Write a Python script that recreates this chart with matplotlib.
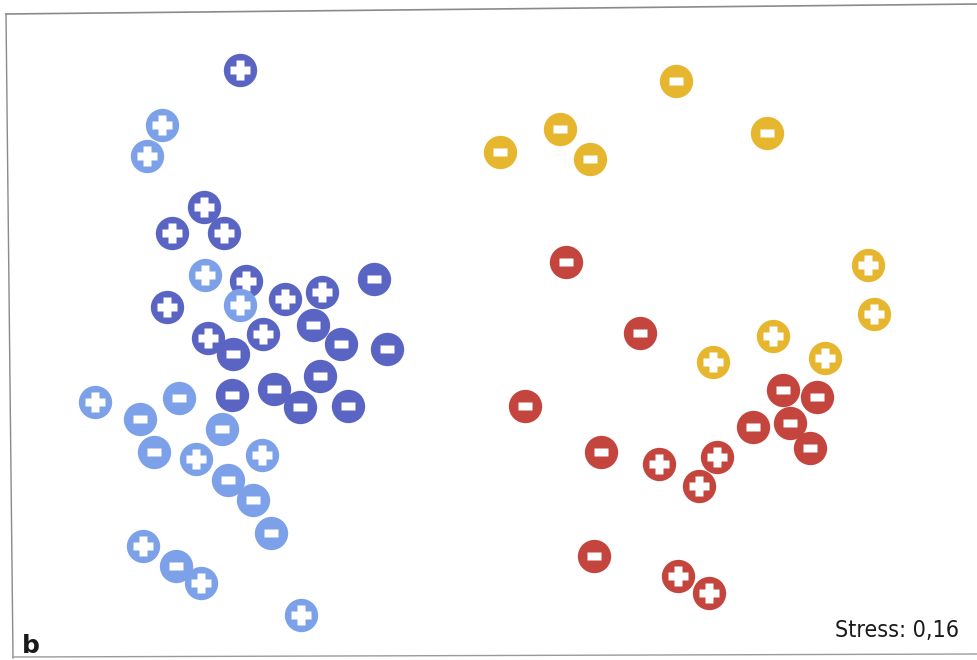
import numpy as np
import matplotlib
matplotlib.use("Agg")
import matplotlib.pyplot as plt
from matplotlib.path import Path

# MDS coordinates (pixel-like units, y grows downward)
dark_x = [240, 204, 172, 224, 246, 167, 285, 322, 374, 313, 208, 263, 341, 233, 387, 320, 232, 274, 300, 348]
dark_y = [70, 207, 233, 233, 281, 307, 299, 292, 279, 325, 338, 334, 344, 354, 349, 376, 395, 389, 407, 406]
dark_sign = ["+", "+", "+", "+", "+", "+", "+", "+", "-", "-", "+", "+", "-", "-", "-", "-", "-", "-", "-", "-"]

light_x = [162, 147, 205, 95, 179, 140, 222, 154, 196, 262, 228, 253, 271, 143, 176, 201, 301, 240]
light_y = [125, 156, 275, 402, 398, 419, 429, 452, 459, 455, 480, 500, 533, 546, 566, 583, 615, 305]
light_sign = ["+", "+", "+", "+", "-", "-", "-", "-", "+", "+", "-", "-", "-", "+", "-", "+", "+", "+"]

yellow_x = [676, 560, 500, 590, 767, 868, 874, 773, 713, 825]
yellow_y = [81, 129, 152, 159, 133, 265, 314, 336, 362, 358]
yellow_sign = ["-", "-", "-", "-", "-", "+", "+", "+", "+", "+"]

red_x = [566, 640, 525, 601, 659, 717, 699, 753, 783, 817, 790, 810, 594, 678, 709]
red_y = [262, 333, 406, 452, 464, 457, 486, 427, 390, 397, 423, 448, 556, 576, 593]
red_sign = ["-", "-", "-", "-", "+", "+", "+", "-", "-", "-", "-", "-", "-", "+", "+"]

groups = [
    (dark_x, dark_y, dark_sign, "#5a64c2"),
    (light_x, light_y, light_sign, "#7ca1e8"),
    (yellow_x, yellow_y, yellow_sign, "#e6b72e"),
    (red_x, red_y, red_sign, "#c4453d"),
]

stress_label = "Stress: 0,16"
panel_label = "b"

# white sign markers: thick plus and short bar
h, a = 0.5, 0.2
plus_marker = Path([(-a, -h), (a, -h), (a, -a), (h, -a), (h, a), (a, a), (a, h),
                    (-a, h), (-a, a), (-h, a), (-h, -a), (-a, -a), (-a, -h)],
                   [Path.MOVETO] + [Path.LINETO] * 11 + [Path.CLOSEPOLY])
minus_marker = Path([(-0.5, -0.28), (0.5, -0.28), (0.5, 0.28), (-0.5, 0.28), (-0.5, -0.28)],
                    [Path.MOVETO, Path.LINETO, Path.LINETO, Path.LINETO, Path.CLOSEPOLY])

fig = plt.figure(figsize=(9.77, 6.6), dpi=100)
ax = fig.add_axes([0, 0, 1, 1])
ax.set_xlim(0, 977)
ax.set_ylim(660, 0)
ax.axis("off")

# scanned frame around the panel
ax.plot([6, 977], [14, 4], color="#8a8a8a", lw=1.2)
ax.plot([6, 13], [14, 658], color="#8a8a8a", lw=1.0)
ax.plot([13, 977], [657, 654], color="#9a9a9a", lw=1.0)

z = 2
for xs, ys, signs, color in groups:
    for x, y, s in zip(xs, ys, signs):
        ax.plot(x, y, marker="o", ms=24, color=color, mec="none", zorder=z)
        if s == "+":
            ax.plot(x, y, marker=plus_marker, ms=14.5, color="white", mec="none", zorder=z + 1)
        else:
            ax.plot(x, y, marker=minus_marker, ms=9.5, color="white", mec="none", zorder=z + 1)
        z += 2

ax.text(22, 653, panel_label, fontsize=18, fontweight="bold", color="#1a1a1a",
        ha="left", va="baseline")
ax.text(959, 637, stress_label, fontsize=16.7, color="#1a1a1a", ha="right", va="baseline",
        family="DejaVu Sans", fontstretch="condensed")

fig.savefig("out.png", dpi=100)
